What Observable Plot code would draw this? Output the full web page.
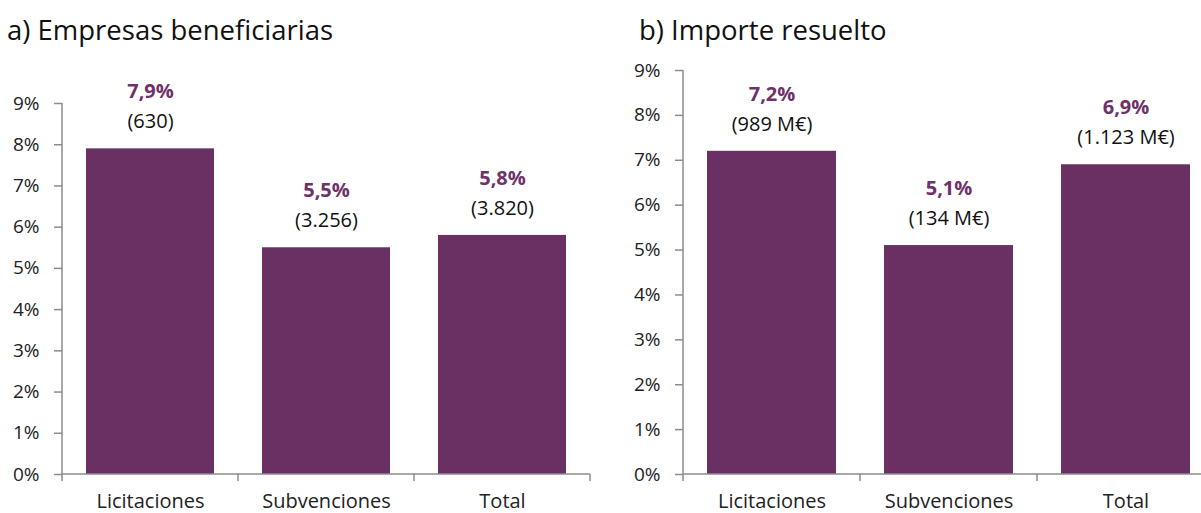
<!DOCTYPE html>
<html>
<head>
<meta charset="utf-8">
<script src="https://cdn.jsdelivr.net/npm/d3@7"></script>
<script src="https://cdn.jsdelivr.net/npm/@observablehq/plot@0.6"></script>
<style>
  html, body { margin: 0; padding: 0; background: #fff; overflow: hidden; }
  body { width: 1201px; height: 513px; font-family: "Open Sans", sans-serif; }
  #wrap { display: flex; width: 1201px; overflow: hidden; }
  .panel { flex: none; position: relative; }
  .panel svg { max-width: none !important; }
  .title { height: 50px; font-size: 27.5px; color: #111; line-height: 60px; white-space: nowrap; }
</style>
</head>
<body>
<div id="wrap">
  <div class="panel" id="pa" style="width:600px"><div class="title" style="padding-left:7px">a) Empresas beneficiarias</div></div>
  <div class="panel" id="pb" style="width:614px"><div class="title" style="padding-left:39px">b) Importe resuelto</div></div>
</div>
<script>
const categories = ["Licitaciones", "Subvenciones", "Total"];
const yTicks = [0, 1, 2, 3, 4, 5, 6, 7, 8, 9];
// Panel a: Empresas beneficiarias
const empresasPct = [7.9, 5.5, 5.8];
const empresasPctLabels = ["7,9%", "5,5%", "5,8%"];
const empresasCountLabels = ["(630)", "(3.256)", "(3.820)"];
// Panel b: Importe resuelto
const importePct = [7.2, 5.1, 6.9];
const importePctLabels = ["7,2%", "5,1%", "6,9%"];
const importeAmountLabels = ["(989 M€)", "(134 M€)", "(1.123 M€)"];

const BAR = "#6a2f63";
const LABEL = "#6e3169";
const AXIS = "#8c8c8c";

function axisLines(index, scales, values, dims) {
  const g = d3.create("svg:g");
  const x = scales.x;
  const left = dims.marginLeft, right = dims.width - dims.marginRight;
  const bottom = dims.height - dims.marginBottom, top = dims.marginTop;
  g.append("line").attr("x1", left).attr("x2", left).attr("y1", top).attr("y2", bottom)
    .attr("stroke", AXIS).attr("stroke-width", 1.5);
  g.append("line").attr("x1", left).attr("x2", right).attr("y1", bottom).attr("y2", bottom)
    .attr("stroke", AXIS).attr("stroke-width", 1.5);
  const step = x.step ? x.step() : (right - left) / categories.length;
  const bw = x.bandwidth ? x.bandwidth() : step;
  const bounds = categories.map(c => x(c) - (step - bw) / 2);
  bounds.push(bounds[bounds.length - 1] + step);
  for (const b of bounds) {
    g.append("line").attr("x1", b).attr("x2", b).attr("y1", bottom).attr("y2", bottom + 7)
      .attr("stroke", AXIS).attr("stroke-width", 1.5);
  }
  return g.node();
}

function makePanel(values, pctLabels, subLabels, opts) {
  const data = categories.map((c, i) => ({cat: c, v: values[i], pl: pctLabels[i], sl: subLabels[i]}));
  return Plot.plot({
    width: opts.width,
    height: 463,
    marginTop: opts.marginTop,
    marginBottom: 39,
    marginLeft: opts.marginLeft,
    marginRight: opts.marginRight,
    style: {fontFamily: "Open Sans, sans-serif", fontSize: "20px", color: "#222", background: "#fff", overflow: "visible"},
    x: {domain: categories, paddingInner: 0.27, paddingOuter: 0.135, label: null},
    y: {domain: [0, 9], label: null},
    marks: [
      Plot.barY(data, {x: "cat", y: "v", fill: BAR}),
      axisLines,
      Plot.axisY({ticks: yTicks, tickFormat: d => d + "%", tickSize: 8, stroke: AXIS, strokeWidth: 1.5, tickPadding: 15, fill: "#222", fontSize: 19}),
      Plot.axisX({tickSize: 0, tickPadding: 19, fill: "#222", fontSize: 20}),
      Plot.text(data, {x: "cat", y: "v", text: "pl", dy: -57, fill: LABEL, fontWeight: "bold", fontSize: 20}),
      Plot.text(data, {x: "cat", y: "v", text: "sl", dy: -27, fill: "#111", fontSize: 20})
    ]
  });
}

document.getElementById("pa").appendChild(
  makePanel(empresasPct, empresasPctLabels, empresasCountLabels, {width: 600, marginTop: 53, marginLeft: 62, marginRight: 10})
);
document.getElementById("pb").appendChild(
  makePanel(importePct, importePctLabels, importeAmountLabels, {width: 614, marginTop: 20, marginLeft: 83, marginRight: 0})
);
</script>
</body>
</html>
